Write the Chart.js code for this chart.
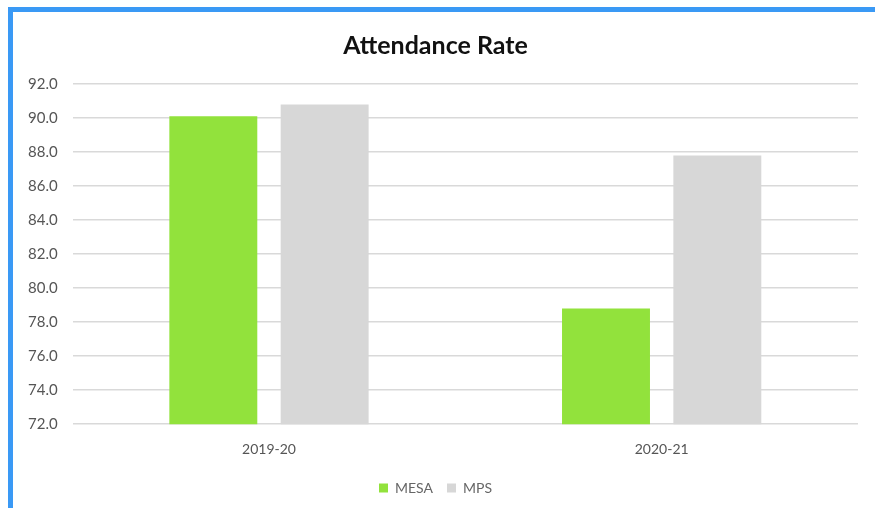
<!DOCTYPE html>
<html>
<head>
<meta charset="utf-8">
<script src="https://cdn.jsdelivr.net/npm/chart.js@4"></script>
<style>
  html, body { margin: 0; padding: 0; background: #fff; width: 875px; height: 508px; overflow: hidden; }
  #frame {
    position: absolute; left: 8px; top: 7px; width: 862px; height: 510px;
    border-left: 5px solid #3a99f5; border-top: 5px solid #3a99f5; border-right: 2px solid #a9d2fb;
    background: #fff;
  }
  #wrap { position: absolute; left: 0; top: 0; width: 862px; height: 496px; }
</style>
</head>
<body>
<div id="frame"><div id="wrap"><canvas id="chart"></canvas></div></div>
<script>
const categories = ["2019-20", "2020-21"];
const mesaValues = [90.1, 78.8];
const mpsValues = [90.8, 87.8];

new Chart(document.getElementById("chart"), {
    type: "bar",
    data: {
        labels: categories,
        datasets: [
            { label: "MESA", data: mesaValues, backgroundColor: "#92e23c" },
            { label: "MPS", data: mpsValues, backgroundColor: "#d7d7d7" }
        ]
    },
    options: {
        responsive: true,
        maintainAspectRatio: false,
        animation: false,
        categoryPercentage: 0.567,
        barPercentage: 0.79,
        layout: { padding: { left: 0, right: 17, top: 0, bottom: 3 } },
        plugins: {
            title: {
                display: true,
                text: "Attendance Rate",
                color: "#111",
                font: { family: "Lato", size: 25, weight: "bold" },
                padding: { top: 19, bottom: 23 }
            },
            legend: {
                position: "bottom",
                labels: {
                    color: "#666",
                    font: { family: "Lato", size: 14 },
                    boxWidth: 9,
                    boxHeight: 9,
                    padding: 14
                }
            },
            tooltip: { enabled: false }
        },
        scales: {
            x: {
                grid: { display: false },
                border: { display: false },
                ticks: { color: "#555", font: { family: "Lato", size: 14 }, padding: 9 }
            },
            y: {
                min: 72,
                max: 92,
                ticks: {
                    stepSize: 2,
                    color: "#555",
                    font: { family: "Lato", size: 15 },
                    padding: 15,
                    callback: v => v.toFixed(1)
                },
                grid: { color: "#d9d9d9", lineWidth: 1.5, drawTicks: false },
                border: { display: false }
            }
        }
    }
});
</script>
</body>
</html>
